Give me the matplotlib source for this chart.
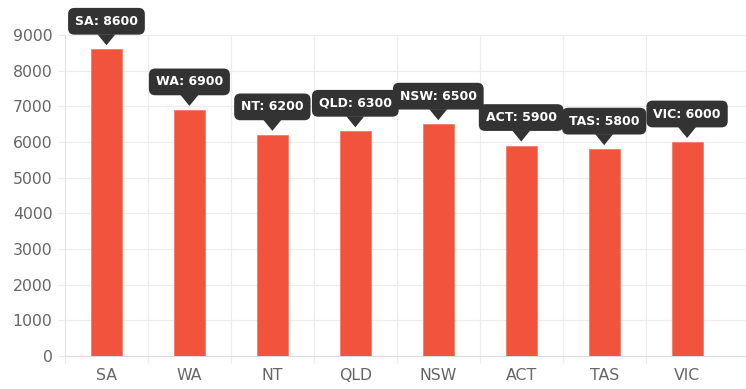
import matplotlib
matplotlib.use("Agg")
import matplotlib.pyplot as plt
from matplotlib import transforms
from matplotlib.patches import Polygon

categories = ["SA", "WA", "NT", "QLD", "NSW", "ACT", "TAS", "VIC"]
values = [8600, 6900, 6200, 6300, 6500, 5900, 5800, 6000]
yticks = [0, 1000, 2000, 3000, 4000, 5000, 6000, 7000, 8000, 9000]

plt.rcParams['font.family'] = ['DejaVu Sans']

W, H = 746, 389
fig = plt.figure(figsize=(W / 100, H / 100), dpi=100)
ax = fig.add_axes([65 / W, (H - 356) / H, (746 - 65) / W, (356 - 35) / H])

x = list(range(len(categories)))
ax.bar(x, values, width=0.375, color="#F1533D", edgecolor="#F57A66", linewidth=0.6, zorder=3)

ax.set_xlim(-0.5, 7.71)
ax.set_ylim(0, 9000)

grid_c = "#ececec"
ax.set_yticks(yticks)
ax.set_yticklabels([str(v) for v in yticks], fontsize=11.3, color="#666666")
ax.tick_params(axis="y", length=5, width=0.8, color=grid_c, pad=4)
for v in yticks[1:]:
    ax.axhline(v, color=grid_c, lw=0.8, zorder=0)

ax.set_xticks(x)
ax.set_xticklabels(categories, fontsize=11.3, color="#666666")
ax.tick_params(axis="x", length=0, pad=9)
bounds = [i - 0.5 for i in range(len(categories))]
ax.set_xticks(bounds, minor=True)
ax.tick_params(axis="x", which="minor", length=5, width=0.8, color=grid_c)
for b in bounds[1:]:
    ax.axvline(b, color=grid_c, lw=0.8, zorder=0)

for s in ["top", "right"]:
    ax.spines[s].set_visible(False)
ax.spines["left"].set_color("#e4e4e4")
ax.spines["bottom"].set_color("#dcdcdc")
ax.spines["left"].set_linewidth(0.8)
ax.spines["bottom"].set_linewidth(0.8)

tip_c = "#333333"
for xi, v, c in zip(x, values, categories):
    tr = transforms.Affine2D() + transforms.ScaledTranslation(xi, v, ax.transData)
    tri = Polygon([(-9, 15), (9, 15), (0, 4)], closed=True, transform=tr,
                  facecolor=tip_c, edgecolor="none", zorder=5, clip_on=False)
    ax.add_patch(tri)
    ax.text(0, 28, f"{c}: {v}", transform=tr, ha="center", va="center",
            fontsize=9, fontweight="bold", color="white", zorder=6,
            bbox=dict(boxstyle="round,pad=0.55,rounding_size=0.5",
                      facecolor=tip_c, edgecolor="none"))

fig.savefig("out.png", dpi=100)
